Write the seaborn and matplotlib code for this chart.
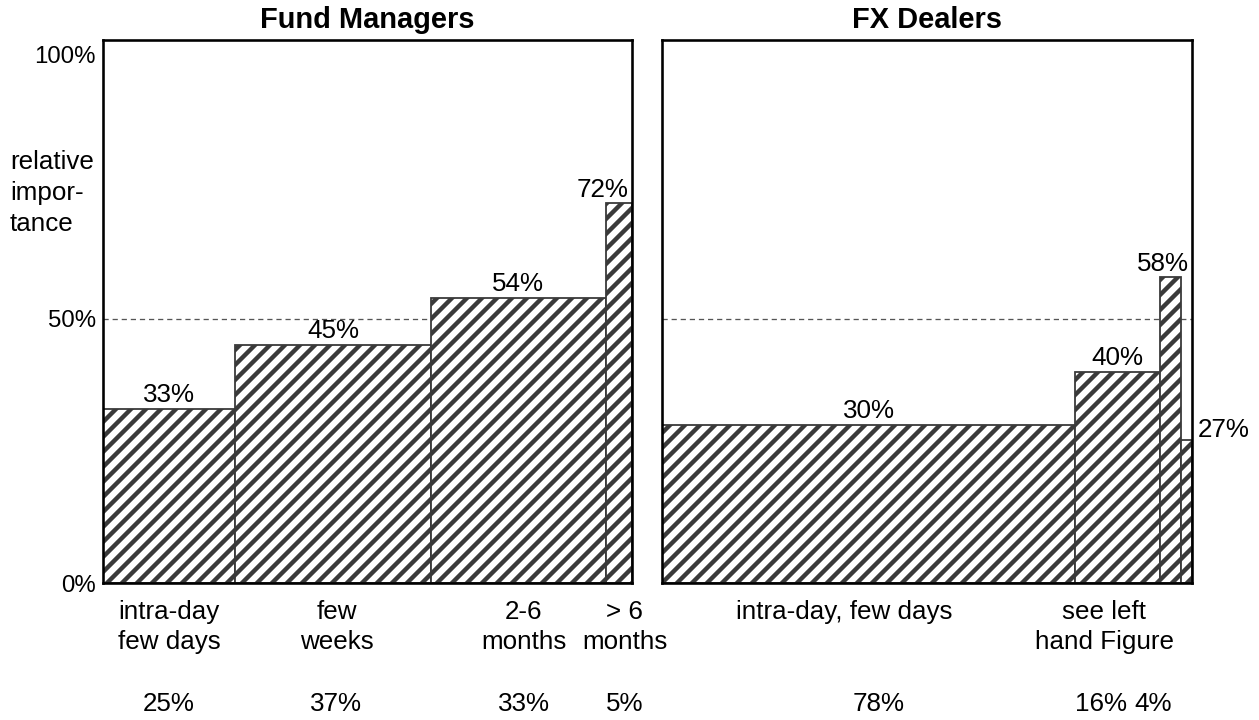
import numpy as np
import pandas as pd
import seaborn as sns
import matplotlib.pyplot as plt

# data
fund_horizons = ["intra-day\nfew days", "few\nweeks", "2-6\nmonths", "> 6\nmonths"]
fund_shares = [25, 37, 33, 5]
fund_importance = [33, 45, 54, 72]

fx_horizons = ["intra-day, few days", "see left\nhand Figure"]
fx_shares = [78, 16, 4, 2]
fx_importance = [30, 40, 58, 27]
fx_shown_shares = 3  # the thin last bar has no share label

y_ticks = [0, 50, 100]
y_tick_labels = ["0%", "50%", "100%"]

DPI = 90
W, H = 1259, 720


def px(v):
    # pixels -> points
    return v * 72 / DPI


def draw_panel(ax, shares, importance, horizons, n_share_labels, title,
               label_nudge, share_nudge, last_label):
    edges = np.concatenate([[0], np.cumsum(shares)]).astype(float)
    mids = (edges[:-1] + edges[1:]) / 2
    df = pd.DataFrame({"mid": mids, "importance": importance})

    ax.axhline(50, color="#555555", lw=px(1.3), ls=(0, (4, 3)), zorder=0.5)
    sns.histplot(data=df, x="mid", weights="importance", bins=edges.tolist(),
                 stat="count", color="white", edgecolor="#3a3a3a",
                 linewidth=px(1.8), hatch="//", alpha=1, ax=ax)

    ax.set(xlim=(0, 100), ylim=(0, 102.8), xlabel="", ylabel="")
    ax.set_xticks([])
    ax.tick_params(length=0)
    for s in ax.spines.values():
        s.set_visible(True)
        s.set_color("black")
        s.set_linewidth(px(2.6))
    ax.set_title(title, fontweight="bold", fontsize=px(29), pad=px(12))

    # value labels on top of bars
    for i, v in enumerate(importance):
        if i == len(importance) - 1 and last_label == "right":
            ax.annotate(f"{v}%", xy=(100, v), xytext=(-px(3), px(6)),
                        textcoords="offset points", ha="right", va="baseline",
                        fontsize=px(26))
        elif i == len(importance) - 1 and last_label == "outside":
            ax.annotate(f"{v}%", xy=(100, v), xytext=(px(6), px(3)),
                        textcoords="offset points", ha="left", va="baseline",
                        fontsize=px(26), annotation_clip=False)
        elif i == len(importance) - 2 and last_label == "outside":
            ax.annotate(f"{v}%", xy=(100, v), xytext=(-px(3), px(6)),
                        textcoords="offset points", ha="right", va="baseline",
                        fontsize=px(26))
        else:
            ax.annotate(f"{v}%", xy=(mids[i], v), xytext=(0, px(7)),
                        textcoords="offset points", ha="center", va="baseline",
                        fontsize=px(26))

    # horizon labels and shares below the panel
    for i, lab in enumerate(horizons):
        ax.annotate(lab, xy=(mids[i] + label_nudge[i], 0), xytext=(0, -px(17)),
                    textcoords="offset points", ha="center", va="top",
                    fontsize=px(26), linespacing=1.33, annotation_clip=False)
    for i in range(n_share_labels):
        ax.annotate(f"{shares[i]}%", xy=(mids[i] + share_nudge[i], 0),
                    xytext=(0, -px(128)), textcoords="offset points",
                    ha="center", va="baseline", fontsize=px(26),
                    annotation_clip=False)


sns.set_style("white")
plt.rcParams["font.family"] = ["Liberation Sans", "DejaVu Sans"]
plt.rcParams["text.color"] = "black"
plt.rcParams["ytick.color"] = "black"
plt.rcParams["hatch.linewidth"] = px(4.4)
plt.rcParams["hatch.color"] = "#3a3a3a"

fig = plt.figure(figsize=(W / DPI, H / DPI), dpi=DPI)
ax1 = fig.add_axes([103 / W, 1 - 583 / H, 529 / W, 543 / H])
ax2 = fig.add_axes([662 / W, 1 - 583 / H, 530 / W, 543 / H])

draw_panel(ax1, fund_shares, fund_importance, fund_horizons, 4, "Fund Managers",
           label_nudge=[0, 0.8, 1.0, 1.1], share_nudge=[0, 0.6, 1.0, 1.1],
           last_label="right")
draw_panel(ax2, fx_shares, fx_importance, fx_horizons, fx_shown_shares, "FX Dealers",
           label_nudge=[-4.7, -2.6], share_nudge=[1.9, -3.2, -3.4],
           last_label="outside")

ax1.set_yticks(y_ticks)
ax1.set_yticklabels(y_tick_labels, fontsize=px(24), color="black")
ax1.tick_params(axis="y", pad=px(7))
ax2.set_yticks([])

fig.text(10 / W, 1 - 193 / H, "relative\nimpor-\ntance", ha="left", va="center",
         fontsize=px(26), linespacing=1.36)

fig.savefig("out.png", dpi=DPI)
